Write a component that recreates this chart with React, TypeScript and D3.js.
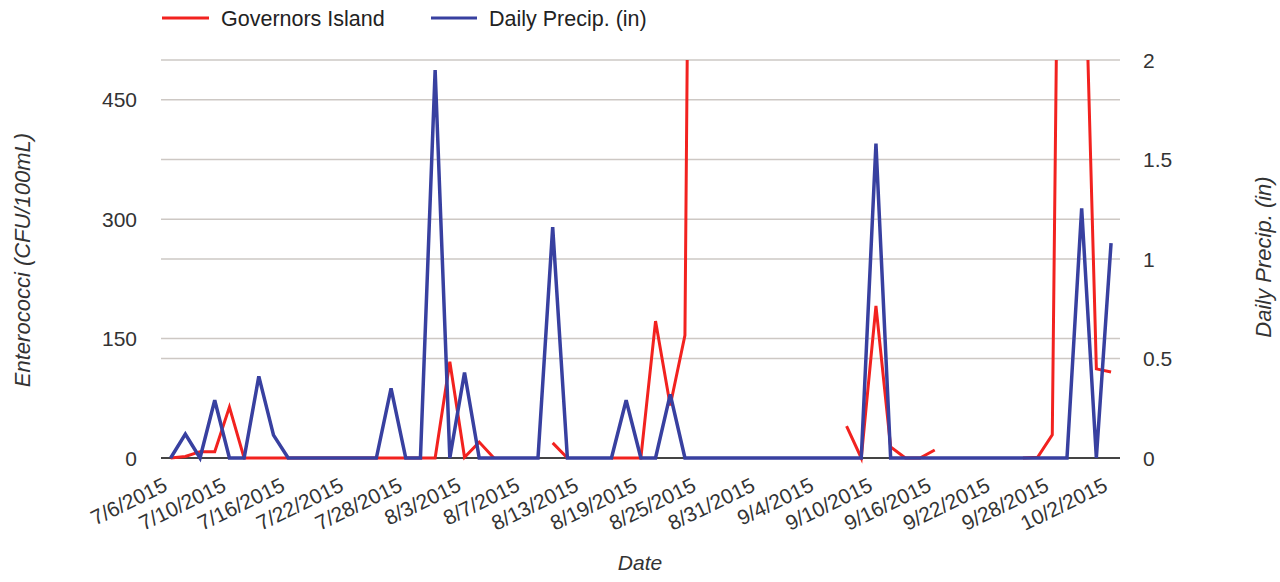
import React from "react";
import * as d3 from "d3";

const tickLabels = [
  "7/6/2015", "7/10/2015", "7/16/2015", "7/22/2015", "7/28/2015", "8/3/2015",
  "8/7/2015", "8/13/2015", "8/19/2015", "8/25/2015", "8/31/2015", "9/4/2015",
  "9/10/2015", "9/16/2015", "9/22/2015", "9/28/2015", "10/2/2015",
];

// Enterococci (CFU/100mL) per sample, null = no sample
const enterococci: (number | null)[] = [
  0, 2, 8, 8, 64, 0, 0, 0, 0, 0,
  0, 0, 0, 0, 0, 0, 0, 0, 0, 121,
  1, 20, 0, null, null, null, 19, 0, null, null,
  0, 0, 0, 172, 66, 154, 2400, null, null, null,
  null, null, null, null, null, null, 40, 0, 191, 14,
  0, 0, 10, null, null, null, null, null, 0, 1,
  29, 1750, 790, 112, 108,
];

// Daily precipitation (in)
const precip: number[] = [
  0, 0.12, 0, 0.29, 0, 0, 0.41, 0.115, 0, 0,
  0, 0, 0, 0, 0, 0.35, 0, 0, 1.95, 0,
  0.43, 0, 0, 0, 0, 0, 1.16, 0, 0, 0,
  0, 0.29, 0, 0, 0.32, 0, 0, 0, 0, 0,
  0, 0, 0, 0, 0, 0, 0, 0, 1.58, 0,
  0, 0, 0, 0, 0, 0, 0, 0, 0, 0,
  0, 0, 1.255, 0, 1.08,
];

const leftTicks = [0, 150, 300, 450];
const rightTicks = [0, 0.5, 1, 1.5, 2];
const labelEvery = 4;

const W = 1280;
const H = 582;
const plot = { left: 163.3, right: 1118.4, top: 60, bottom: 458 };
const FONT = "'Liberation Sans', Arial, Helvetica, sans-serif";
const RED = "#f2221f";
const BLUE = "#3840a0";

export default function App() {
  const idx = d3.range(precip.length);
  const x = d3.scalePoint<number>().domain(idx).range([plot.left, plot.right]).padding(0.5);
  const yL = d3.scaleLinear().domain([0, 500]).range([plot.bottom, plot.top]);
  const yR = d3.scaleLinear().domain([0, 2]).range([plot.bottom, plot.top]);

  const redLine = d3
    .line<number | null>()
    .defined((d) => d !== null)
    .x((_, i) => x(i) as number)
    .y((d) => yL(d as number));
  const blueLine = d3
    .line<number>()
    .x((_, i) => x(i) as number)
    .y((d) => yR(d));

  const gridYs = Array.from(
    new Set([...leftTicks.map((t) => yL(t)), ...rightTicks.map((t) => yR(t))])
  ).filter((y) => Math.abs(y - plot.bottom) > 1);

  return (
    <svg
      width={W}
      height={H}
      style={{ position: "absolute", left: 0, top: 0, background: "#fff" }}
      fontFamily={FONT}
    >
      <defs>
        <clipPath id="plotclip">
          <rect x={plot.left - 10} y={plot.top} width={plot.right - plot.left + 20} height={plot.bottom - plot.top + 10} />
        </clipPath>
      </defs>

      {/* legend */}
      <g>
        <line x1={162} x2={209} y1={18} y2={18} stroke={RED} strokeWidth={3} />
        <text x={221} y={26} fontSize={21.5} fill="#222">Governors Island</text>
        <line x1={431} x2={477} y1={18} y2={18} stroke={BLUE} strokeWidth={3} />
        <text x={489} y={26} fontSize={21.5} fill="#222">Daily Precip. (in)</text>
      </g>

      {/* gridlines */}
      {gridYs.map((y, i) => (
        <line key={i} x1={161} x2={1120} y1={y} y2={y} stroke="#cdc8c4" strokeWidth={1.5} />
      ))}
      <line x1={161} x2={1120} y1={plot.bottom} y2={plot.bottom} stroke="#444" strokeWidth={2} />

      {/* left axis labels */}
      {leftTicks.map((t) => (
        <text key={t} x={137} y={yL(t) + 7.5} fontSize={21} textAnchor="end" fill="#333">
          {t}
        </text>
      ))}
      {/* right axis labels */}
      {rightTicks.map((t) => (
        <text key={t} x={1143} y={yR(t) + 7.5} fontSize={21} textAnchor="start" fill="#333">
          {t}
        </text>
      ))}

      {/* x labels */}
      {tickLabels.map((lab, k) => {
        const px = (x(k * labelEvery) as number) - 2;
        const py = 490;
        return (
          <text
            key={lab}
            x={0}
            y={0}
            transform={`translate(${px},${py}) rotate(-26)`}
            fontSize={21}
            textAnchor="end"
            fill="#333"
          >
            {lab}
          </text>
        );
      })}

      {/* axis titles */}
      <text x={640} y={570} fontSize={21} textAnchor="middle" fontStyle="italic" fill="#333">
        Date
      </text>
      <text
        transform={`translate(30,260) rotate(-90)`}
        fontSize={22}
        textAnchor="middle"
        fontStyle="italic"
        fill="#333"
      >
        Enterococci (CFU/100mL)
      </text>
      <text
        transform={`translate(1271,257) rotate(-90)`}
        fontSize={22}
        textAnchor="middle"
        fontStyle="italic"
        fill="#333"
      >
        Daily Precip. (in)
      </text>

      {/* series */}
      <g clipPath="url(#plotclip)">
        <path d={redLine(enterococci) || ""} fill="none" stroke={RED} strokeWidth={3} strokeLinejoin="miter" />
        <path d={blueLine(precip) || ""} fill="none" stroke={BLUE} strokeWidth={3.5} strokeLinejoin="miter" />
      </g>
    </svg>
  );
}
